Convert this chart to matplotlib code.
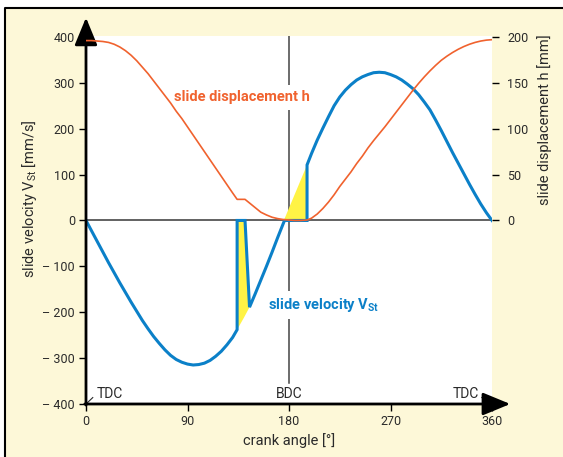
import matplotlib
matplotlib.use('Agg')
import matplotlib.pyplot as plt
from matplotlib.lines import Line2D
from matplotlib.patches import Rectangle

plt.rcParams['font.family'] = ['Roboto', 'DejaVu Sans']
plt.rcParams['mathtext.fontset'] = 'custom'
plt.rcParams['mathtext.rm'] = 'Roboto'
plt.rcParams['mathtext.bf'] = 'Roboto:bold'

# slide velocity (mm/s) as drawn, incl. the two hold phases
vel_angle = [0, 5, 10, 15, 20, 25, 30, 35, 40, 45, 50, 55, 60, 65, 70, 75, 80, 85,
             90, 95, 100, 105, 110, 115, 120, 125, 130, 134,
             134, 141, 145, 150, 155, 160, 165, 170, 176,
             196, 196, 200, 205, 210, 215, 220, 225, 230, 235, 240, 245, 250, 255,
             260, 265, 270, 275, 280, 285, 290, 295, 300, 305, 310, 315, 320, 325,
             330, 335, 340, 345, 350, 355, 360]
velocity = [0, -23, -46, -69, -92, -114, -136, -157, -178, -198, -218, -236, -253,
            -268, -282, -294, -303, -309, -313, -315, -314, -311, -305, -296, -285,
            -271, -255, -238,
            0, 0, -189, -160, -130, -100, -69, -37, 0,
            0, 121, 146, 175, 201, 226, 250, 269, 284, 296, 306, 313, 318, 322,
            323, 322, 318, 313, 306, 297, 287, 274, 258, 241, 219, 196, 172, 148,
            125, 102, 79, 57, 36, 17, 0]

# yellow areas between drawn and undisturbed velocity
fill1_angle = [134, 141, 145, 140, 134]
fill1_vel = [0, 0, -189, -212, -238]
fill2_angle = [176, 196, 196]
fill2_vel = [0, 0, 121]

# slide displacement h (mm)
h_angle = [0, 5, 10, 15, 20, 25, 30, 35, 40, 45, 50, 55, 60, 65, 70, 75, 80, 85,
           90, 95, 100, 105, 110, 115, 120, 125, 130, 134, 141, 145, 150, 155, 160,
           165, 170, 175, 180, 185, 190, 196, 200, 205, 210, 215, 220, 225, 230,
           235, 240, 245, 250, 255, 260, 265, 270, 275, 280, 285, 290, 295, 300,
           305, 310, 315, 320, 325, 330, 335, 340, 345, 350, 355, 360]
h = [196, 196, 195.5, 195, 194, 192, 189, 185, 180, 174, 167, 160, 152, 144, 136,
     128, 119, 111, 102, 93, 84, 75, 66, 57, 48, 39, 30, 23, 23, 19, 14, 9, 6,
     3.5, 2, 1, 0.5, 0, 0, 0.5, 2.5, 7, 13, 20, 28, 37, 45, 53, 62, 70, 79, 87,
     94.5, 102, 110, 118, 126, 134, 142, 149.5, 156.5, 163, 169, 174.5, 179, 183,
     186.5, 189.5, 192, 194, 195.5, 196.5, 197]

x_ticks = [0, 90, 180, 270, 360]
v_ticks = [-400, -300, -200, -100, 0, 100, 200, 300, 400]
v_labels = ['\u2013 400', '\u2013 300', '\u2013 200', '\u2013 100', '0', '100', '200', '300', '400']
h_ticks = [0, 50, 100, 150, 200]

BLUE = '#0b80c8'
ORANGE = '#f0622e'
YELLOW = '#fff345'
CREAM = '#fdf8d8'
TXT = '#2a2a2a'

W, H = 563, 457
fig = plt.figure(figsize=(W / 100, H / 100), dpi=100, facecolor='white')
fig.add_artist(Rectangle((4.5 / W, 0), 1, 1 - 7.5 / H, transform=fig.transFigure,
                         facecolor=CREAM, edgecolor='none', zorder=-10))
fig.add_artist(Line2D([4.5 / W, 4.5 / W, 1], [0, 1 - 7.5 / H, 1 - 7.5 / H],
                      transform=fig.transFigure, color='black', lw=1.5))

ax = fig.add_axes([86 / W, 53 / H, 406 / W, 368 / H])
ax.set_xlim(0, 360)
ax.set_ylim(-400, 402)
ax.set_facecolor('white')
for s in ax.spines.values():
    s.set_visible(False)
ax.set_xticks(x_ticks)
ax.set_yticks(v_ticks)
ax.set_yticklabels(v_labels)
ax.tick_params(direction='out', length=5, width=1, labelsize=9, labelcolor=TXT, pad=3)

ax2 = ax.twinx()
ax2.set_ylim(-200, 201)
for s in ax2.spines.values():
    s.set_visible(False)
ax2.set_yticks(h_ticks)
ax2.tick_params(direction='out', length=5, width=1, labelsize=9, labelcolor=TXT, pad=6)

# reference lines
ax.axhline(0, color='#555555', lw=1.3, zorder=1)
ax.plot([180, 180], [-355, 402], color='#444444', lw=1.1, zorder=1)

ax.fill(fill1_angle, fill1_vel, color=YELLOW, lw=0, zorder=2)
ax.fill(fill2_angle, fill2_vel, color=YELLOW, lw=0, zorder=2)
ax.plot(vel_angle, velocity, color=BLUE, lw=2.2, zorder=3, solid_joinstyle='miter')
ax2.plot(h_angle, h, color=ORANGE, lw=1.2, zorder=2)

# axis arrows
ax.annotate('', xy=(0, 1.05), xytext=(0, -0.003), xycoords='axes fraction',
            arrowprops=dict(arrowstyle='-|>,head_length=0.85,head_width=0.35',
                            color='black', lw=2, shrinkA=0, shrinkB=0, mutation_scale=20),
            annotation_clip=False)
ax.annotate('', xy=(1.045, 0), xytext=(-0.003, 0), xycoords='axes fraction',
            arrowprops=dict(arrowstyle='-|>,head_length=0.85,head_width=0.35',
                            color='black', lw=2, shrinkA=0, shrinkB=0, mutation_scale=20),
            annotation_clip=False)

# TDC / BDC markers
ax.plot([0, 6], [-400, -386], color=TXT, lw=0.8)
ax.text(9.5, -386, 'TDC', fontsize=10, color=TXT, ha='left', va='baseline')
ax.plot([351, 359.5], [-386, -398], color=TXT, lw=0.8, clip_on=False)
ax.text(348.5, -386, 'TDC', fontsize=10, color=TXT, ha='right', va='baseline')
ax.text(180.5, -386, 'BDC', fontsize=10, color=TXT, ha='center', va='baseline')

# curve labels
ax.text(138.5, 268, 'slide displacement h', fontsize=10.5, fontweight='bold',
        color=ORANGE, ha='center', va='center', zorder=4,
        bbox=dict(boxstyle='square,pad=0.35', facecolor='white', edgecolor='none'))
ax.text(161.5, -185, r'slide velocity V$_{\mathbf{St}}$', fontsize=10.5, fontweight='bold',
        color=BLUE, ha='left', va='center', zorder=4,
        bbox=dict(boxstyle='square,pad=0.35', facecolor='white', edgecolor='none'))

# axis titles
fig.text(289 / W, 1 - 441 / H, 'crank angle [\u00b0]', fontsize=10.5, color=TXT,
         ha='center', va='center')
fig.text(30 / W, 1 - 199 / H, r'slide velocity V$_{\mathrm{St}}$ [mm/s]', fontsize=10.5,
         color=TXT, ha='center', va='center', rotation=90)
fig.text(545 / W, 1 - 120 / H, 'slide displacement h [mm]', fontsize=10.5, color=TXT,
         ha='center', va='center', rotation=90)

fig.savefig('out.png', dpi=100, facecolor=fig.get_facecolor())
